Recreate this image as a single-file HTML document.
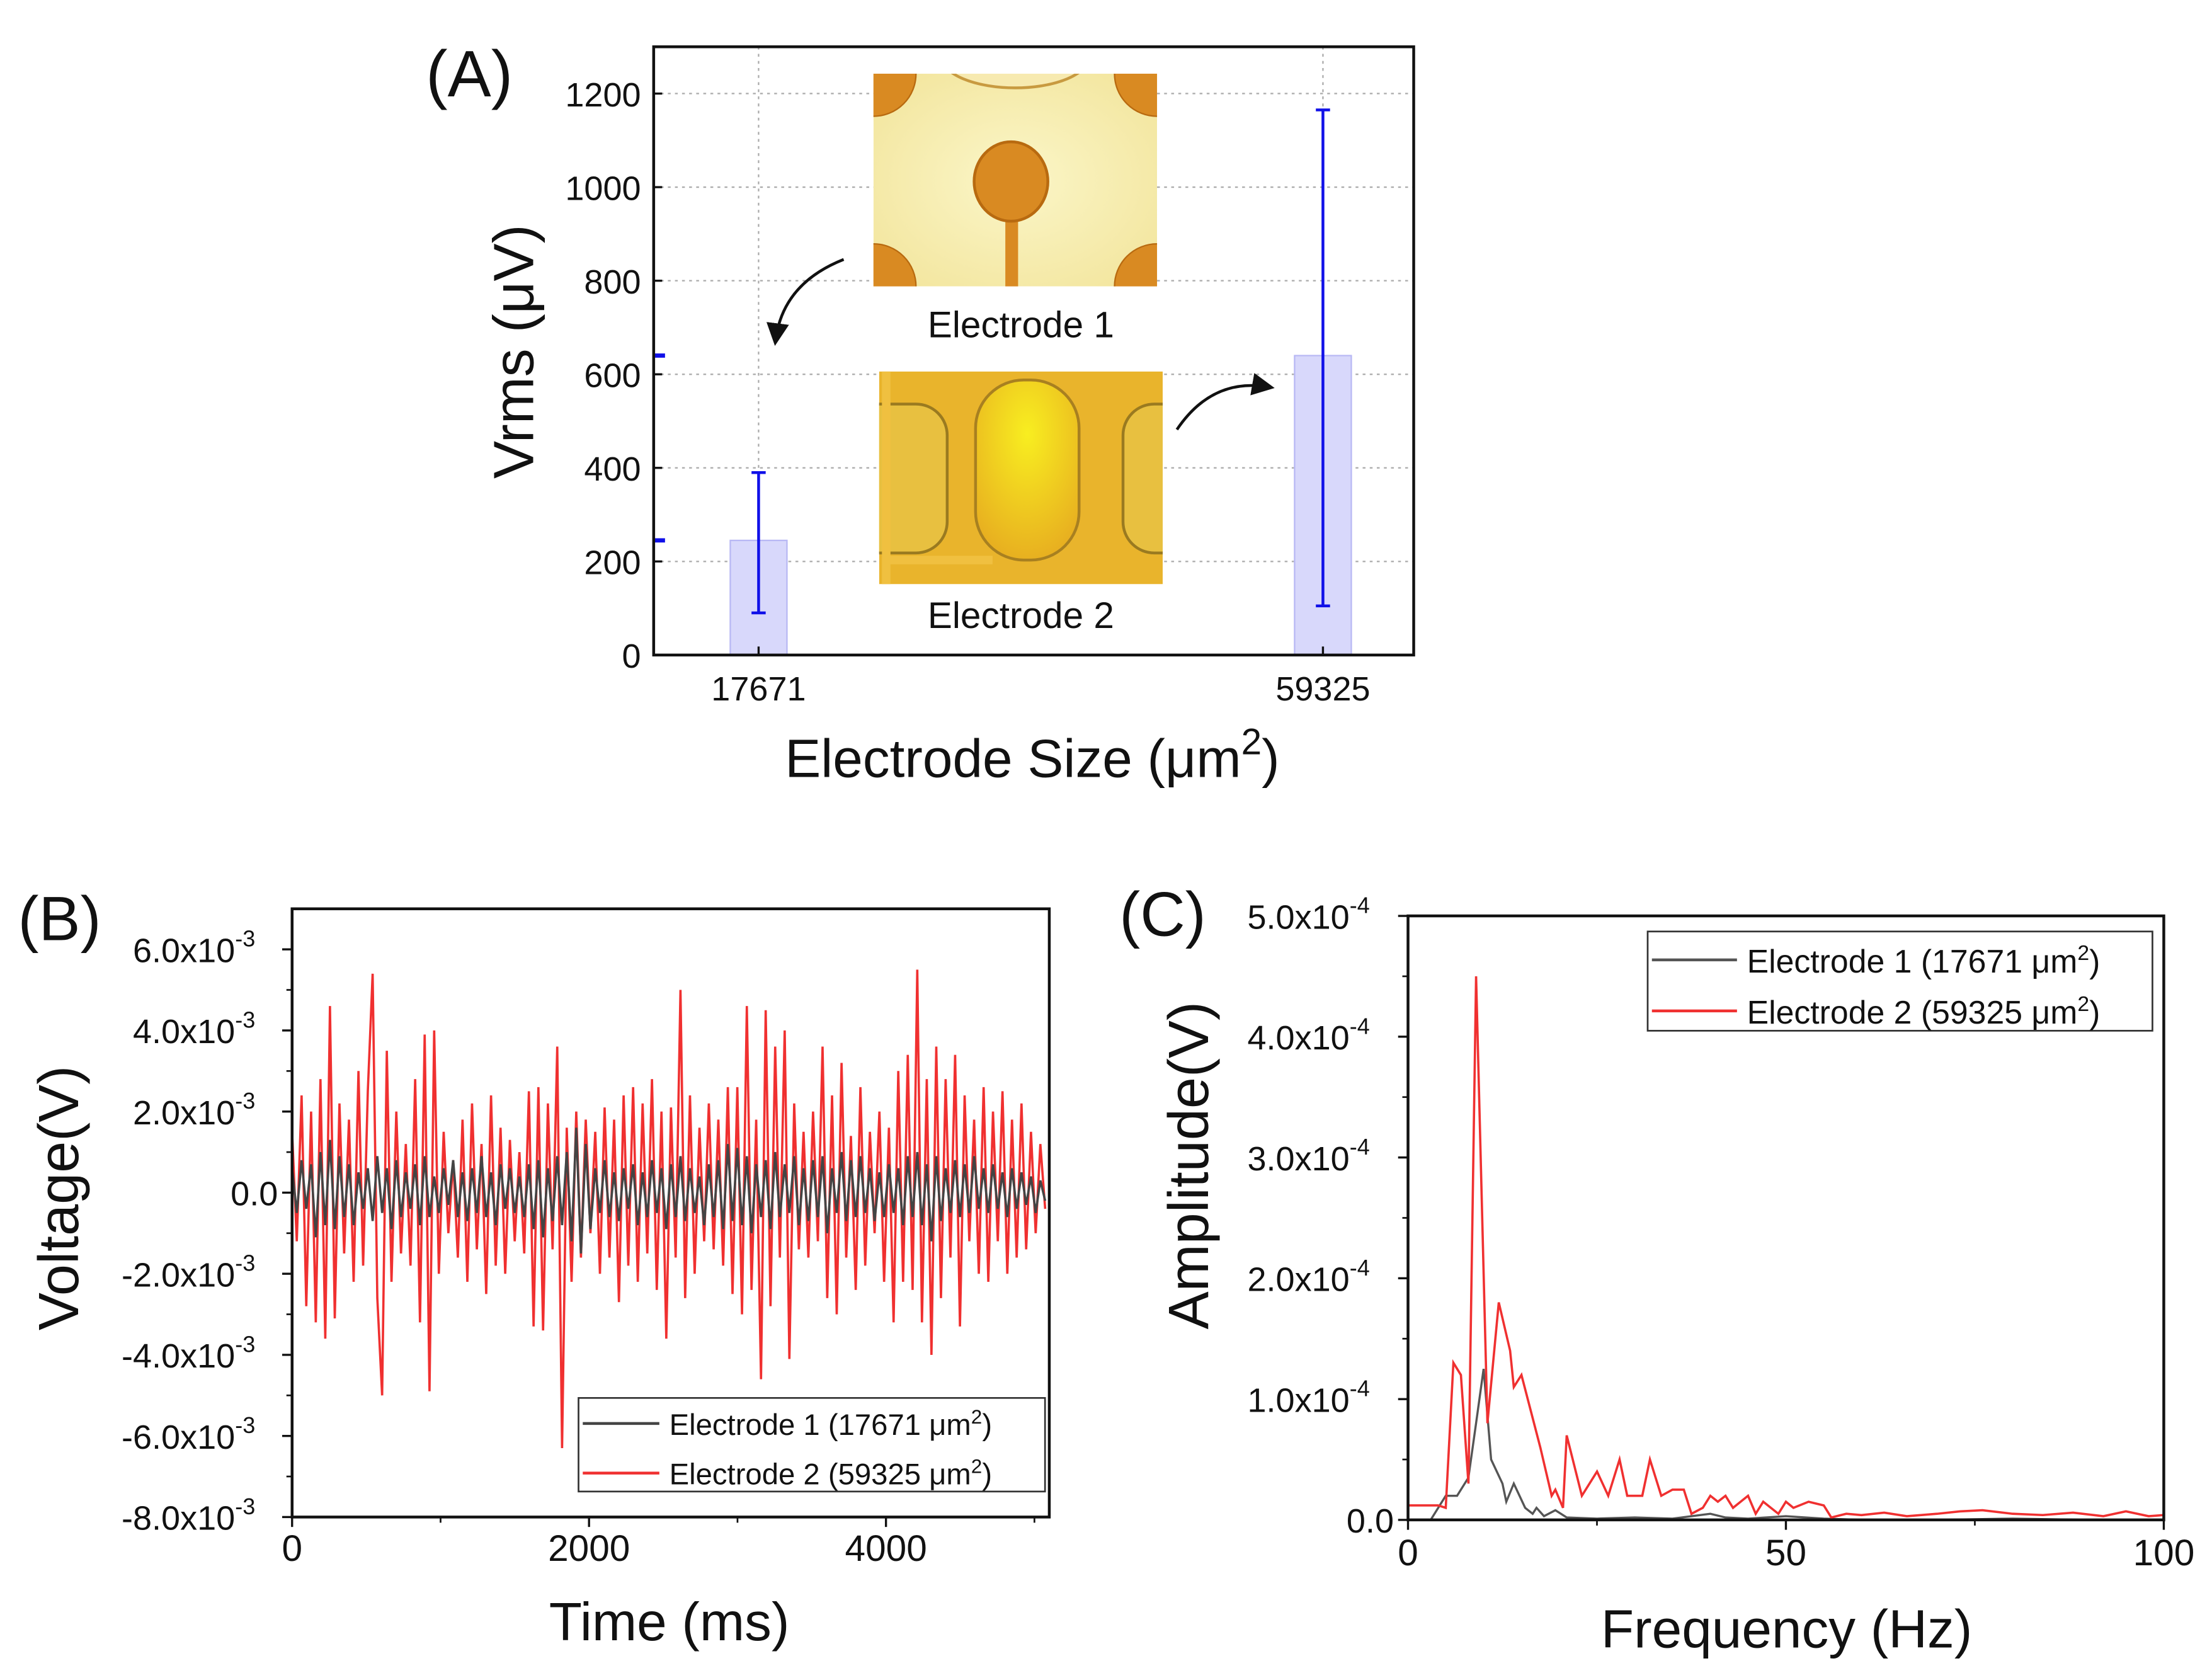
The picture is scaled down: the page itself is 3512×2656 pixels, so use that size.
<!DOCTYPE html>
<html><head><meta charset="utf-8"><style>
html,body{margin:0;padding:0;background:#fff;}
svg{display:block;}
text{font-family:"Liberation Sans",sans-serif;fill:#111;}
</style></head><body>
<svg id="fig" width="3512" height="2656" viewBox="0 0 1560 1180" preserveAspectRatio="none" xmlns="http://www.w3.org/2000/svg">
<defs>
<clipPath id="cp1"><rect x="616" y="52" width="200" height="150"/></clipPath>
<clipPath id="cp2"><rect x="620" y="262" width="200" height="150"/></clipPath>
<clipPath id="cpB"><rect x="206" y="641" width="534" height="429"/></clipPath>
<clipPath id="cpC"><rect x="993" y="646" width="533" height="426"/></clipPath>
<radialGradient id="g1" cx="0.5" cy="0.5" r="0.7"><stop offset="0" stop-color="#fbf6c8"/><stop offset="1" stop-color="#f2e49a"/></radialGradient>
<radialGradient id="g2" cx="0.5" cy="0.3" r="0.7"><stop offset="0" stop-color="#f8ee20"/><stop offset="1" stop-color="#e8b020"/></radialGradient>
<marker id="ah" markerWidth="8" markerHeight="8" refX="6" refY="4" orient="auto" markerUnits="strokeWidth"><path d="M0,0 L8,4 L0,8 Z" fill="#111"/></marker>
</defs>
<g id="panelA"></g>
<g id="panelB"></g>
<g id="panelC"></g>
</svg>
<script>
// ---------- Panel A data ----------
const aCategories = ["17671", "59325"];
const aValues = [245, 640];
const aErrLow = [90, 105];
const aErrHigh = [390, 1165];
const aTicks = [0, 200, 400, 600, 800, 1000, 1200];

// ---------- Panel B data (units 1e-3 V) ----------
const bDt = 31.9;
const bRed = [1.5,-1.2,2.4,-2.8,2.0,-3.2,2.8,-3.6,4.6,-3.1,
 2.2,-1.5,1.8,-2.2,3.0,-1.8,2.5,5.4,-2.6,-5.0,
 3.5,-2.2,2.0,-1.5,1.2,-1.8,2.8,-3.2,3.9,-4.9,
 4.0,-2.0,1.5,-1.0,0.8,-1.6,1.8,-2.2,2.2,-1.4,
 1.2,-2.5,2.4,-1.8,1.6,-2.0,1.3,-1.2,1.0,-1.5,
 2.5,-3.3,2.6,-3.4,2.2,-1.4,3.6,-6.3,1.6,-2.2,
 2.0,-1.6,1.8,-1.0,1.5,-2.0,2.1,-1.6,1.8,-2.7,
 2.4,-1.8,2.6,-2.2,2.2,-1.5,2.8,-2.4,2.0,-3.6,
 2.1,-1.6,5.0,-2.6,2.4,-2.0,1.6,-1.2,2.2,-1.4,
 1.8,-1.8,2.6,-2.5,2.6,-3.0,4.6,-2.4,1.8,-4.6,
 4.5,-2.8,3.6,-1.6,4.0,-4.1,2.2,-1.4,1.5,-1.6,
 2.0,-1.2,3.6,-2.6,2.4,-3.0,3.2,-1.6,1.4,-2.4,
 2.6,-1.8,1.5,-1.0,2.0,-2.2,1.6,-3.2,3.0,-2.2,
 3.4,-2.4,5.5,-3.2,2.8,-4.0,3.6,-2.6,2.8,-1.6,
 3.4,-3.3,2.4,-1.2,1.8,-2.0,2.6,-2.2,2.0,-1.2,
 2.5,-2.0,1.8,-1.6,2.2,-1.4,1.5,-1.0,1.2,-0.4];
const bGray = [0.6,-0.5,0.8,-0.4,0.7,-1.1,1.0,-0.8,1.3,-0.9,
 0.9,-0.6,0.7,-0.8,0.5,-0.4,0.6,-0.7,0.9,-0.5,
 0.6,-0.9,0.8,-0.6,0.5,-0.4,0.7,-0.8,0.9,-0.6,
 0.4,-0.5,0.6,-0.3,0.8,-0.6,0.5,-0.7,0.6,-0.5,
 0.9,-0.6,0.5,-0.8,0.7,-0.4,0.6,-0.5,0.4,-0.6,
 0.7,-0.9,0.8,-1.1,0.6,-0.7,0.9,-0.8,1.0,-1.2,
 1.6,-1.5,1.2,-0.9,0.6,-0.5,0.8,-0.6,0.5,-0.7,
 0.6,-0.4,0.7,-0.8,0.5,-0.6,0.8,-0.5,0.6,-0.9,
 0.7,-0.6,0.9,-0.7,0.6,-0.5,0.4,-0.8,0.7,-0.6,
 0.8,-0.9,1.2,-0.7,1.1,-0.8,0.9,-1.0,0.7,-0.6,
 0.8,-0.9,1.0,-0.6,0.7,-0.5,0.9,-0.8,0.6,-0.7,
 0.8,-0.6,0.9,-1.0,0.6,-0.5,1.0,-0.7,0.8,-0.6,
 0.9,-0.5,0.6,-0.7,0.5,-0.6,0.7,-0.5,0.6,-0.8,
 0.9,-0.6,1.0,-0.8,0.7,-1.2,0.9,-0.7,0.6,-0.5,
 0.8,-0.6,0.7,-0.5,0.9,-0.4,0.6,-0.5,0.7,-0.4,
 0.5,-0.6,0.6,-0.4,0.5,-0.3,0.4,-0.5,0.3,-0.2];
const bYTicks = ["6.0", "4.0", "2.0", "0.0", "-2.0", "-4.0", "-6.0", "-8.0"];
const bYTickVals = [6, 4, 2, 0, -2, -4, -6, -8];
const bXTicks = [0, 2000, 4000];

// ---------- Panel C data (units 1e-4 V) ----------
const cRedF = [0,2,4,5,6,7,8,9,10.5,12,13.5,14,15,17.5,19,19.5,20.5,21,23,25,26.5,28,29,31,32,33.5,35,36.5,37.5,39,40,41,42,43,45,46,47,49,50,51,53,55,56,58,60,63,66,70,73,76,80,84,88,92,95,98,100];
const cRedA = [0.12,0.12,0.12,0.10,1.30,1.20,0.30,4.50,0.80,1.80,1.40,1.10,1.20,0.60,0.20,0.25,0.10,0.70,0.20,0.40,0.20,0.50,0.20,0.20,0.50,0.20,0.25,0.25,0.05,0.10,0.20,0.15,0.20,0.10,0.20,0.05,0.15,0.05,0.15,0.10,0.15,0.12,0.02,0.05,0.04,0.06,0.03,0.05,0.07,0.08,0.05,0.04,0.06,0.03,0.07,0.03,0.04];
const cGrayF = [0,3,4,5,6.5,8,9,10,11,12.5,13,14,15.5,16.5,17,18,19.5,21,25,30,35,40,42,45,50,55,60,70,80,90,100];
const cGrayA = [0,0,0.10,0.20,0.20,0.35,0.80,1.25,0.50,0.30,0.15,0.30,0.10,0.05,0.10,0.03,0.08,0.02,0.01,0.02,0.01,0.05,0.02,0.01,0.03,0.01,0.0,0.0,0.01,0.0,0.0];
const cYTicks = ["0.0", "1.0", "2.0", "3.0", "4.0", "5.0"];
const cYTickVals = [0, 1, 2, 3, 4, 5];
const cXTicks = [0, 50, 100];

const NS = "http://www.w3.org/2000/svg";
function mk(parent, tag, attrs, txt) {
  const e = document.createElementNS(NS, tag);
  for (const k in attrs) e.setAttribute(k, attrs[k]);
  if (txt !== undefined) e.textContent = txt;
  parent.appendChild(e);
  return e;
}

// ================= Panel A =================
(function(){
  const g = document.getElementById('panelA');
  const L=461,R=997,T=33,B=462, yMax=1300;
  const ay = v => B - v/yMax*(B-T);
  const ax = i => [535,933][i];
  // gridlines
  aTicks.forEach(v=>{ if(v>0){ const l=mk(g,'line',{x1:L,x2:R,y1:ay(v),y2:ay(v),stroke:'#aaa','stroke-width':1,'stroke-dasharray':'2,3'});
      }});
  aCategories.forEach((c,i)=>{ const l=mk(g,'line',{x1:ax(i),x2:ax(i),y1:T,y2:B,stroke:'#aaa','stroke-width':1,'stroke-dasharray':'2,3'});
      });
  // bars
  aValues.forEach((v,i)=>{
    const r=mk(g,'rect',{x:ax(i)-20,y:ay(v),width:40,height:B-ay(v),fill:'#d8d8fb',stroke:'#b8b8f4','stroke-width':1});
     
    const e=mk(g,'path',{d:`M${ax(i)},${ay(aErrLow[i])}V${ay(aErrHigh[i])}M${ax(i)-5},${ay(aErrLow[i])}H${ax(i)+5}M${ax(i)-5},${ay(aErrHigh[i])}H${ax(i)+5}`,stroke:'#1010e8','stroke-width':2,fill:'none'});
     
    const m=mk(g,'line',{x1:L,x2:L+8,y1:ay(v),y2:ay(v),stroke:'#1010e8','stroke-width':3});
     
  });
  // photos
  const p1=mk(g,'g',{'clip-path':'url(#cp1)'});  
  mk(p1,'rect',{x:616,y:52,width:200,height:150,fill:'url(#g1)'});
  [[616,52],[816,52],[616,202],[816,202]].forEach(([x,y])=>mk(p1,'circle',{cx:x,cy:y,r:30,fill:'#d98a22',stroke:'#b86a10'}));
  mk(p1,'ellipse',{cx:716,cy:40,rx:52,ry:22,fill:'#f7eab0',stroke:'#c89a40','stroke-width':2});
  mk(p1,'rect',{x:709,y:150,width:9,height:55,fill:'#d98a22'});
  mk(p1,'ellipse',{cx:713,cy:128,rx:26,ry:28,fill:'#d98a22',stroke:'#b86a10','stroke-width':2});
  const p2=mk(g,'g',{'clip-path':'url(#cp2)'});  
  mk(p2,'rect',{x:620,y:262,width:200,height:150,fill:'#e9b42c'});
  mk(p2,'rect',{x:588,y:285,width:80,height:105,rx:22,fill:'#e8c040',stroke:'#9a7a20','stroke-width':2});
  mk(p2,'rect',{x:792,y:285,width:80,height:105,rx:22,fill:'#e8c040',stroke:'#9a7a20','stroke-width':2});
  mk(p2,'rect',{x:688,y:268,width:73,height:127,rx:34,fill:'url(#g2)',stroke:'#a88020','stroke-width':2});
  mk(p2,'path',{d:'M625,262V412M625,412V395H700',stroke:'#f0c040','stroke-width':6,fill:'none'});
  // labels
  let t=mk(g,'text',{x:720,y:238,'font-size':26,'text-anchor':'middle'},'Electrode 1');  
  t=mk(g,'text',{x:720,y:443,'font-size':26,'text-anchor':'middle'},'Electrode 2');  
  // arrows
  let a=mk(g,'path',{d:'M595,183 Q552,200 547,240',stroke:'#111','stroke-width':2,fill:'none','marker-end':'url(#ah)'});  
  a=mk(g,'path',{d:'M830,303 Q855,266 895,273',stroke:'#111','stroke-width':2,fill:'none','marker-end':'url(#ah)'});  
  // frame
  const f=mk(g,'rect',{x:L,y:T,width:R-L,height:B-T,fill:'none',stroke:'#111','stroke-width':2});  
  aTicks.forEach(v=>{ mk(g,'line',{x1:L,x2:L+6,y1:ay(v),y2:ay(v),stroke:'#111','stroke-width':1.5});
    const tt=mk(g,'text',{x:452,y:ay(v)+9,'font-size':24,'text-anchor':'end'},String(v));   });
  aCategories.forEach((c,i)=>{ mk(g,'line',{x1:ax(i),x2:ax(i),y1:B,y2:B-6,stroke:'#111','stroke-width':1.5});
    const tt=mk(g,'text',{x:ax(i),y:494,'font-size':24,'text-anchor':'middle'},c);   });
  t=mk(g,'text',{x:331,y:68,'font-size':46,'text-anchor':'middle'},'(A)');  
  t=mk(g,'text',{x:0,y:0,'font-size':40,'text-anchor':'middle',transform:'translate(376,248) rotate(-90)'},'Vrms (μV)');  
  t=mk(g,'text',{x:728,y:548,'font-size':38,'text-anchor':'middle'});  
  t.innerHTML='Electrode Size (μm<tspan dy="-16" font-size="26">2</tspan><tspan dy="16">)</tspan>';
})();

// ================= Panel B =================
(function(){
  const g = document.getElementById('panelB');
  const L=206,R=740,T=641,B=1070, yMin=-8, yMax=7.0, xMax=5100;
  const bx = v => L + v/xMax*(R-L);
  const by = v => B - (v-yMin)/(yMax-yMin)*(B-T);
  const clip=mk(g,'g',{'clip-path':'url(#cpB)'});
  let d=bRed.map((v,i)=>(i?'L':'M')+bx(i*bDt).toFixed(1)+','+by(v).toFixed(1)).join('');
  let p=mk(clip,'path',{d:d,stroke:'#f03030','stroke-width':1.6,fill:'none'});  
  d=bGray.map((v,i)=>(i?'L':'M')+bx(i*bDt).toFixed(1)+','+by(v).toFixed(1)).join('');
  p=mk(clip,'path',{d:d,stroke:'#444','stroke-width':1.6,fill:'none'});  
  const f=mk(g,'rect',{x:L,y:T,width:R-L,height:B-T,fill:'none',stroke:'#111','stroke-width':2});  
  bYTickVals.forEach((v,i)=>{ mk(g,'line',{x1:L,x2:L-7,y1:by(v),y2:by(v),stroke:'#111','stroke-width':1.5});
    if(i<bYTickVals.length-1) mk(g,'line',{x1:L,x2:L-4,y1:by(v-1),y2:by(v-1),stroke:'#111','stroke-width':1.2});
    const tt=mk(g,'text',{x:v===0?196:180,y:by(v)+9,'font-size':24,'text-anchor':'end'});  
    if(v===0) tt.textContent=bYTicks[i]; else tt.innerHTML=bYTicks[i]+'x10<tspan dy="-11" font-size="16">-3</tspan>';
  });
  bXTicks.forEach(v=>{ mk(g,'line',{x1:bx(v),x2:bx(v),y1:B,y2:B+7,stroke:'#111','stroke-width':1.5});
    const tt=mk(g,'text',{x:bx(v),y:1101,'font-size':26,'text-anchor':'middle'},String(v));   });
  [1000,3000,5000].forEach(v=>mk(g,'line',{x1:bx(v),x2:bx(v),y1:B,y2:B+4,stroke:'#111','stroke-width':1.2}));
  // legend
  const lg=mk(g,'g',{});  
  mk(lg,'rect',{x:408,y:986,width:329,height:66,fill:'#fff',stroke:'#333','stroke-width':1.2});
  mk(lg,'line',{x1:411,x2:465,y1:1004,y2:1004,stroke:'#444','stroke-width':2});
  mk(lg,'line',{x1:411,x2:465,y1:1039,y2:1039,stroke:'#f03030','stroke-width':2});
  let t=mk(lg,'text',{x:472,y:1012,'font-size':21}); t.innerHTML='Electrode 1 (17671 μm<tspan dy="-8" font-size="14">2</tspan><tspan dy="8">)</tspan>';
   
  t=mk(lg,'text',{x:472,y:1047,'font-size':21}); t.innerHTML='Electrode 2 (59325 μm<tspan dy="-8" font-size="14">2</tspan><tspan dy="8">)</tspan>';
   
  t=mk(g,'text',{x:42,y:663,'font-size':44,'text-anchor':'middle'},'(B)');  
  t=mk(g,'text',{x:0,y:0,'font-size':40,'text-anchor':'middle',transform:'translate(55,845) rotate(-90)'},'Voltage(V)');  
  t=mk(g,'text',{x:472,y:1157,'font-size':38,'text-anchor':'middle'},'Time (ms)');  
})();

// ================= Panel C =================
(function(){
  const g = document.getElementById('panelC');
  const L=993,R=1526,T=646,B=1072, yMax=5, xMax=100;
  const cx = v => L + v/xMax*(R-L);
  const cy = v => B - v/yMax*(B-T);
  const clip=mk(g,'g',{'clip-path':'url(#cpC)'});
  let d=cGrayF.map((f,i)=>(i?'L':'M')+cx(f).toFixed(1)+','+cy(cGrayA[i]).toFixed(1)).join('');
  let p=mk(clip,'path',{d:d,stroke:'#555','stroke-width':1.5,fill:'none'});  
  d=cRedF.map((f,i)=>(i?'L':'M')+cx(f).toFixed(1)+','+cy(cRedA[i]).toFixed(1)).join('');
  p=mk(clip,'path',{d:d,stroke:'#f03030','stroke-width':1.6,fill:'none'});  
  const f=mk(g,'rect',{x:L,y:T,width:R-L,height:B-T,fill:'none',stroke:'#111','stroke-width':2});  
  cYTickVals.forEach((v,i)=>{ mk(g,'line',{x1:L,x2:L-7,y1:cy(v),y2:cy(v),stroke:'#111','stroke-width':1.5});
    if(v<5) mk(g,'line',{x1:L,x2:L-4,y1:cy(v+0.5),y2:cy(v+0.5),stroke:'#111','stroke-width':1.2});
    const tt=mk(g,'text',{x:v===0?983:966,y:cy(v)+9,'font-size':24,'text-anchor':'end'});  
    if(v===0) tt.textContent=cYTicks[i]; else tt.innerHTML=cYTicks[i]+'x10<tspan dy="-11" font-size="16">-4</tspan>';
  });
  cXTicks.forEach(v=>{ mk(g,'line',{x1:cx(v),x2:cx(v),y1:B,y2:B+7,stroke:'#111','stroke-width':1.5});
    const tt=mk(g,'text',{x:cx(v),y:1104,'font-size':26,'text-anchor':'middle'},String(v));   });
  [25,75].forEach(v=>mk(g,'line',{x1:cx(v),x2:cx(v),y1:B,y2:B+4,stroke:'#111','stroke-width':1.2}));
  const lg=mk(g,'g',{});  
  mk(lg,'rect',{x:1162,y:657,width:356,height:70,fill:'#fff',stroke:'#333','stroke-width':1.2});
  mk(lg,'line',{x1:1165,x2:1225,y1:677,y2:677,stroke:'#555','stroke-width':2});
  mk(lg,'line',{x1:1165,x2:1225,y1:713,y2:713,stroke:'#f03030','stroke-width':2});
  let t=mk(lg,'text',{x:1232,y:686,'font-size':23}); t.innerHTML='Electrode 1 (17671 μm<tspan dy="-9" font-size="15">2</tspan><tspan dy="9">)</tspan>';
   
  t=mk(lg,'text',{x:1232,y:722,'font-size':23}); t.innerHTML='Electrode 2 (59325 μm<tspan dy="-9" font-size="15">2</tspan><tspan dy="9">)</tspan>';
   
  t=mk(g,'text',{x:820,y:660,'font-size':44,'text-anchor':'middle'},'(C)');  
  t=mk(g,'text',{x:0,y:0,'font-size':40,'text-anchor':'middle',transform:'translate(852,822) rotate(-90)'},'Amplitude(V)');  
  t=mk(g,'text',{x:1260,y:1162,'font-size':38,'text-anchor':'middle'},'Frequency (Hz)');  
})();
</script>
</body></html>
